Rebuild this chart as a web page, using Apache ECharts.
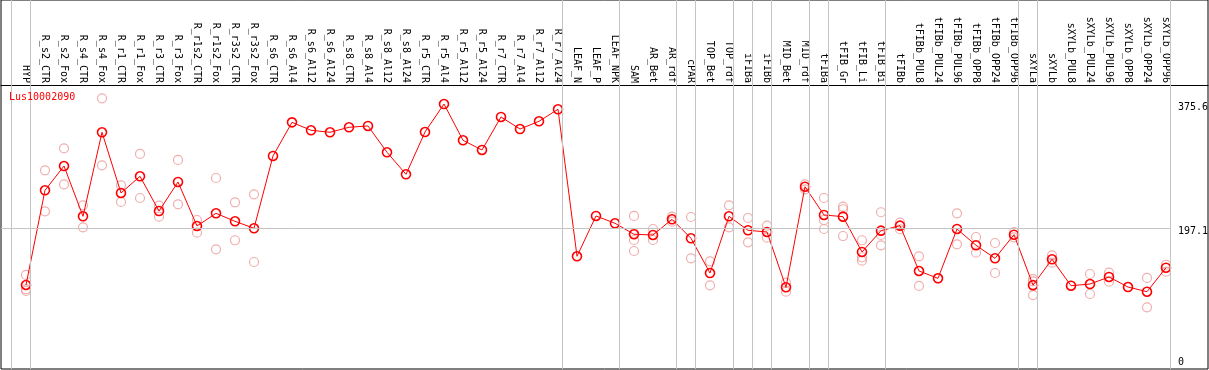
<!DOCTYPE html>
<html><head><meta charset="utf-8">
<script src="https://cdn.jsdelivr.net/npm/echarts@6/dist/echarts.min.js"></script>
<style>html,body{margin:0;padding:0;background:#fff}#c{width:1209px;height:370px}</style>
</head><body><div id="c"></div>
<script>
const geneName = 'Lus10002090';
const categories = ['HYP','R_s2_CTR','R_s2_Fox','R_s4_CTR','R_s4_Fox','R_r1_CTR','R_r1_Fox','R_r3_CTR','R_r3_Fox','R_r1s2_CTR','R_r1s2_Fox','R_r3s2_CTR','R_r3s2_Fox','R_s6_CTR','R_s6_Al4','R_s6_Al12','R_s6_Al24','R_s8_CTR','R_s8_Al4','R_s8_Al12','R_s8_Al24','R_r5_CTR','R_r5_Al4','R_r5_Al12','R_r5_Al24','R_r7_CTR','R_r7_Al4','R_r7_Al12','R_r7_Al24','LEAF_N','LEAF_P','LEAF_NPK','SAM','AR_Bet','AR_rdf','cPAR','TOP_Bet','TOP_rdf','iFIBa','iFIBb','MID_Bet','MID_rdf','tFIBa','tFIB_Gr','tFIB_Li','tFIB_Bi','tFIBb','tFIBb_PUL8','tFIBb_PUL24','tFIBb_PUL96','tFIBb_OPP8','tFIBb_OPP24','tFIBb_OPP96','sXYLa','sXYLb','sXYLb_PUL8','sXYLb_PUL24','sXYLb_PUL96','sXYLb_OPP8','sXYLb_OPP24','sXYLb_OPP96'];
const means = [115.7,251.6,286.5,214.3,334.9,247.8,271.7,221.9,263.6,200.4,218.6,207.1,197.1,300.9,349.2,337.8,334.9,342.1,344.0,306.2,274.6,335.3,375.5,323.4,309.5,356.9,339.6,350.7,367.9,156.9,214.8,204.3,188.5,187.5,210.0,182.7,132.9,214.3,194.2,191.8,112.4,256.8,216.2,213.8,163.1,193.7,200.9,135.8,125.3,196.1,172.7,154.0,187.9,115.5,152.6,114.7,117.1,127.2,112.8,106.1,140.5];
const replicates = [[130.1,109.5,107.1],[280.3,221.5],[311.9,260.2],[230.1,198.5],[383.7,287.5],[258.8,234.9],[303.8,240.6],[229.6,213.8],[295.2,231.5],[209.0,190.8],[269.3,166.9],[234.4,179.9],[245.9,148.7],
[],[],[],[],[],[],[],[],[],[],[],[],[],[],[],[],[],[],[],
[214.8,190.0,180.3,164.5],[196.1,180.3],[213.8,206.6],[213.3,154.0],[149.7,115.3],[230.1,198.5],[211.9,177.0],[200.9,183.6],[119.0,106.1],[260.2,253.1],[240.6,209.0,196.1],[228.1,224.4,186.0],[179.9,155.5,150.6],[220.1,187.5,172.7],[205.1,195.7],[156.9,114.3],[125.3],[218.6,174.1],[184.6,162.1],[176.0,132.9],[191.8,184.2],[121.0,124.0,101.3],[158.3,147.7],[114.7],[131.5,102.8],[133.4,120.4],[112.8],[125.8,83.7],[144.8,134.8]];
const separatorsAfter = [null,'HYP','R_r7_Al24','LEAF_NPK','AR_rdf','cPAR','TOP_rdf','iFIBa','iFIBb','MID_rdf','tFIBa','tFIB_Bi','tFIBb_OPP96','sXYLa','sXYLb_OPP96'];
const yTickValues = [0, 197.1, 375.6];
const yTickLabels = ['0', '197.1', '375.6'];
const refLineValue = 197.1;

const MONO = 'DejaVu Sans Mono';
const xMin = -25/19, xMax = xMin + 1207/19;
const sepOffset = 0.24;
const sepVals = separatorsAfter.map(n => (n === null ? -1 : categories.indexOf(n)) + sepOffset);

const repData = [];
replicates.forEach((arr, i) => arr.forEach(v => repData.push([i, v])));
const meanData = means.map((v, i) => [i, v]);

const chart = echarts.init(document.getElementById('c'));
chart.setOption({
  animation: false,
  backgroundColor: '#fff',
  title: { text: geneName, left: 9, top: 92, padding: 0,
    textStyle: { color: '#ff0000', fontSize: 10, fontFamily: MONO, fontWeight: 'normal' } },
  grid: { left: 1, right: 1, top: 0, bottom: 1, show: true, borderColor: '#000', borderWidth: 1, outerBoundsMode: 'none', containLabel: false },
  xAxis: {
    type: 'value', position: 'top', offset: -85, min: xMin, max: xMax,
    axisLine: { show: true, onZero: false, lineStyle: { color: '#000', width: 1 } },
    axisTick: { show: false }, splitLine: { show: false },
    axisLabel: { customValues: categories.map((c, i) => i), rotate: 90, margin: 2, fontSize: 10, fontFamily: MONO, color: '#000',
      formatter: v => categories[Math.round(v)] || '' }
  },
  yAxis: {
    type: 'value', position: 'right', min: -4.88, max: 524.8,
    axisLine: { show: false, onZero: false }, axisTick: { show: false }, splitLine: { show: false },
    axisLabel: { inside: true, customValues: yTickValues, margin: 30, align: 'left', verticalAlign: 'middle',
      fontSize: 10, fontFamily: MONO, color: '#000',
      formatter: v => {
        const i = yTickValues.findIndex(t => Math.abs(t - v) < 1e-6);
        const t = i >= 0 ? yTickLabels[i] : '';
        return v === 0 ? '{lo|' + t + '}' : '{hi|' + t + '}';
      },
      rich: {
        hi: { padding: [7, 0, 0, 0], fontSize: 10, fontFamily: MONO, color: '#000' },
        lo: { padding: [0, 0, 7, 0], fontSize: 10, fontFamily: MONO, color: '#000' }
      }
    }
  },
  series: [
    {
      type: 'scatter', data: repData, symbol: 'circle', symbolSize: 9, z: 2,
      itemStyle: { color: 'rgba(0,0,0,0)', borderColor: '#ec9a9a', borderWidth: 1.2 },
      markLine: {
        silent: true, symbol: 'none', label: { show: false }, animation: false,
        lineStyle: { color: '#c4c4c4', width: 1, type: 'solid' },
        data: sepVals.map(v => ({ xAxis: v })).concat([[{ xAxis: xMin, yAxis: refLineValue }, { xAxis: sepVals[sepVals.length - 1], yAxis: refLineValue }]])
      }
    },
    {
      type: 'line', data: meanData, symbol: 'circle', symbolSize: 9, z: 3,
      lineStyle: { color: '#ff0000', width: 1 },
      itemStyle: { color: 'rgba(0,0,0,0)', borderColor: '#ff0000', borderWidth: 1.6 }
    }
  ]
});
</script></body></html>
